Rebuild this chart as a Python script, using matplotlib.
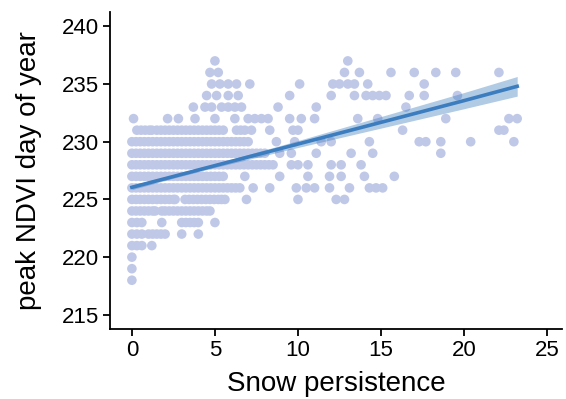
import matplotlib
matplotlib.use('Agg')
import matplotlib.pyplot as plt

plt.rcParams['font.family'] = ['Liberation Sans', 'DejaVu Sans']

# snow persistence values for each peak NDVI day
y218 = [0]
y219 = [0]
y220 = [0]
y221 = [0, 0.3, 0.6, 1.2]
y222 = [0, 0.3, 0.6, 1.0, 1.25, 1.5, 1.75, 2.0, 3.0, 4.0]
y223 = [0, 0.3, 0.6, 1.8, 3.0, 3.25, 3.5, 3.75, 4.0, 5.0]
y224 = [0, 0.25, 0.5, 0.75, 1.0, 1.25, 1.4, 1.8, 2.0, 2.25, 2.5, 2.75, 3.0,
        3.25, 3.5, 3.75, 4.0, 4.25, 4.5, 4.7]
y225 = [0, 0.25, 0.5, 0.75, 1.0, 1.25, 1.5, 1.75, 2.0, 2.25, 2.5, 2.6,
        3.2, 3.45, 3.7, 3.95, 4.2, 4.45, 4.7, 4.95, 5.2, 5.4, 5.6,
        6.9, 10.0, 12.3, 12.8]
y226 = [0, 0.25, 0.5, 0.75, 1.0, 1.25, 1.5, 1.75, 2.0, 2.25, 2.5, 2.75, 3.0,
        3.25, 3.5, 3.75, 4.0, 4.25, 4.5, 4.75, 5.0, 5.25, 5.5, 5.75, 6.0,
        6.25, 6.5, 7.3, 8.3, 9.9, 10.5, 11.0, 11.9, 13.1, 14.3, 14.7, 15.1]
y227 = [0, 0.25, 0.5, 0.75, 1.0, 1.25, 1.5, 1.75, 2.0, 2.25, 2.5, 2.75, 3.0,
        3.25, 3.5, 3.75, 4.0, 4.25, 4.5, 4.75, 5.0, 5.25, 5.5,
        6.8, 8.9, 10.6, 11.9, 12.6, 14.0, 15.8]
y228 = [0, 0.25, 0.5, 0.75, 1.0, 1.25, 1.5, 1.75, 2.0, 2.25, 2.5, 2.75, 3.0,
        3.25, 3.5, 3.75, 4.0, 4.25, 4.5, 4.75, 5.0, 5.25, 5.5, 5.75, 6.0,
        6.25, 6.5, 6.75, 7.0, 7.25, 7.5, 7.75, 8.0, 8.25, 8.5,
        9.6, 10.0, 10.6, 12.0, 12.6, 13.8]
y229 = [0, 0.25, 0.5, 0.75, 1.0, 1.25, 1.5, 1.75, 2.0, 2.25, 2.5, 2.75, 3.0,
        3.25, 3.5, 3.75, 4.0, 4.25, 4.5, 4.75, 5.0, 5.25, 5.5, 5.75, 6.0,
        6.25, 6.5, 6.75, 7.0, 7.25, 7.5, 7.75, 8.0,
        8.9, 9.6, 11.1, 13.2, 14.5, 18.6]
y230 = [0, 0.25, 0.5, 0.75, 1.0, 1.25, 1.5, 1.75, 2.0, 2.25, 2.5, 2.75, 3.0,
        3.25, 3.5, 3.75, 4.0, 4.25, 4.5, 4.75, 5.0, 5.25, 5.5, 5.75, 6.0,
        6.25, 6.5, 6.75, 7.0, 8.7, 9.8, 11.4, 12.0, 14.3, 17.3, 17.7, 18.6,
        20.4, 23.0]
y231 = [0.3, 0.55, 0.8, 1.05, 1.2, 1.5, 1.75, 2.0, 2.25, 2.5, 2.75, 3.0,
        3.25, 3.5, 3.75, 4.0, 4.25, 4.5, 4.75, 5.0, 5.25, 5.5,
        6.3, 6.55, 6.8, 7.2, 8.3, 9.7, 10.0, 16.3, 22.1, 22.4]
y232 = [0.1, 2.15, 2.8, 3.8, 5.0, 6.2, 7.0, 7.4, 7.8, 8.2, 9.5, 10.2, 11.0,
        13.6, 14.8, 18.9, 22.7, 23.2]
y233 = [3.7, 4.4, 4.8, 5.4, 5.8, 6.2, 6.6, 8.8, 11.1, 16.5]
y234 = [4.5, 5.1, 5.8, 6.4, 9.5, 12.0, 13.4, 14.1, 14.5, 14.9, 15.3, 16.7, 17.6, 19.6]
y235 = [4.8, 5.3, 5.8, 6.3, 7.1, 10.1, 12.1, 12.5, 13.0, 13.4, 14.2, 17.6]
y236 = [4.7, 5.2, 12.8, 13.7, 15.6, 17.0, 18.3, 19.5, 22.1]
y237 = [5.0, 13.0]

rows = {218: y218, 219: y219, 220: y220, 221: y221, 222: y222, 223: y223,
        224: y224, 225: y225, 226: y226, 227: y227, 228: y228, 229: y229,
        230: y230, 231: y231, 232: y232, 233: y233, 234: y234, 235: y235,
        236: y236, 237: y237}

# fitted line and its confidence band
fit_x = [0, 2.5, 5, 10, 15, 20, 23.2]
fit_y = [226.05, 226.99, 227.93, 229.80, 231.68, 233.56, 234.80]
ci_half = [0.20, 0.15, 0.16, 0.30, 0.50, 0.70, 0.85]

snow = []
peak = []
for day, xs in rows.items():
    snow += xs
    peak += [day] * len(xs)

fig = plt.figure(figsize=(5.66, 3.99), dpi=100)
ax = fig.add_axes([0.194, 0.175, 0.799, 0.795])

ax.scatter(snow, peak, s=48, color='#c0c8e8', edgecolors='none', zorder=1)
lo = [y - h for y, h in zip(fit_y, ci_half)]
hi = [y + h for y, h in zip(fit_y, ci_half)]
ax.fill_between(fit_x, lo, hi, color='#3c7dbf', alpha=0.4, linewidth=0, zorder=2)
ax.plot(fit_x, fit_y, color='#3c7dbf', linewidth=2.6, zorder=3)

ax.set_xlim(-1.33, 25.9)
ax.set_ylim(213.76, 241.24)
ax.set_xticks([0, 5, 10, 15, 20, 25])
ax.set_yticks([215, 220, 225, 230, 235, 240])

for side in ['top', 'right']:
    ax.spines[side].set_visible(False)
for side in ['left', 'bottom']:
    ax.spines[side].set_linewidth(1.3)
ax.tick_params(direction='out', length=5, width=1.3, labelsize=16, pad=3)

ax.set_xlabel('Snow persistence', fontsize=20, labelpad=7)
ax.set_ylabel('peak NDVI day of year', fontsize=20, labelpad=14)

fig.savefig('out.png', dpi=100)
